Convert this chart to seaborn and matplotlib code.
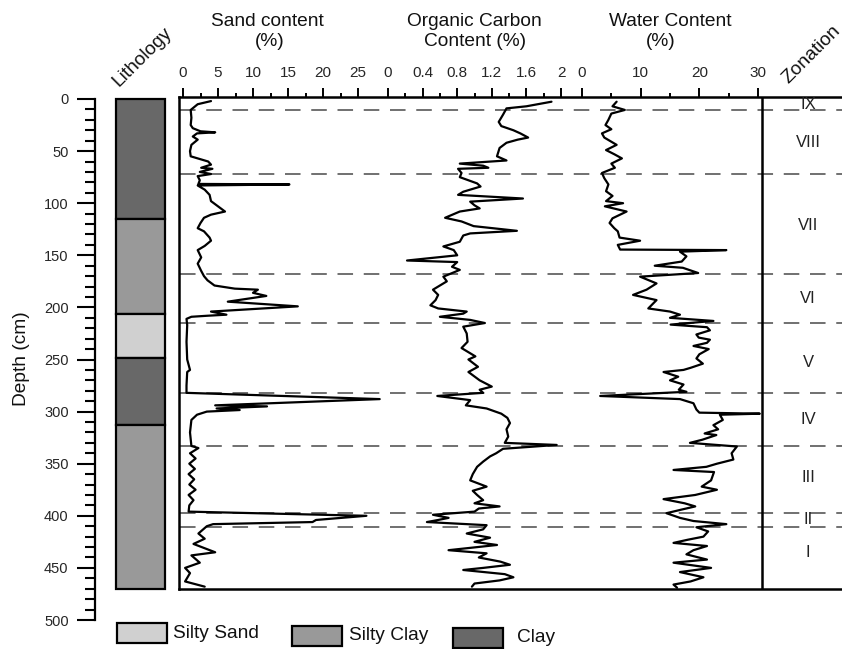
import matplotlib
matplotlib.use("Agg")
import matplotlib.pyplot as plt
import seaborn as sns
import numpy as np
import pandas as pd
from matplotlib.patches import Rectangle

# ---------------- data ----------------
sand_depth = [2, 5, 10.5, 18, 25, 28, 31, 32, 33, 36,
              39, 44, 50, 55, 57, 60, 63, 66, 67, 70,
              72, 74, 78, 81.5, 82, 83, 87, 92, 98, 103,
              108, 111, 114, 119, 124, 127, 133, 136, 141, 145,
              152, 158, 165, 170, 174, 179, 182, 183, 186, 189,
              194.5, 199, 204, 207, 208, 209, 211, 217, 233, 250,
              260, 262, 275, 282, 288, 294, 295, 297, 298.5, 300,
              303, 308, 320, 333, 335, 340, 345, 350, 355, 360,
              365, 370, 375, 380, 385, 390, 396, 400, 404, 406,
              408, 410, 417, 422, 427, 435, 438, 445, 450, 455,
              463, 468]
sand_pct = [4.0, 2.1, 1.1, 1.2, 1.1, 1.4, 2.5, 4.6, 2.0, 1.4,
            2.1, 1.2, 1.0, 1.1, 2.1, 3.6, 4.0, 2.6, 4.2, 2.4,
            4.0, 2.1, 2.4, 2.2, 15.2, 2.1, 3.1, 3.8, 4.0, 5.0,
            6.0, 4.0, 3.0, 2.5, 2.1, 3.0, 3.8, 4.0, 3.1, 2.1,
            2.6, 2.1, 2.6, 3.0, 3.5, 4.5, 7.4, 10.7, 10.0, 11.9,
            6.4, 16.4, 4.0, 6.2, 3.5, 1.2, 0.5, 0.6, 0.5, 0.6,
            1.0, 0.6, 0.5, 0.5, 28.1, 4.6, 12.0, 4.8, 8.1, 3.4,
            2.0, 1.2, 1.0, 1.2, 2.2, 1.0, 1.8, 0.9, 1.7, 0.8,
            1.6, 0.9, 1.8, 0.8, 1.5, 0.9, 0.8, 26.2, 19.0, 18.5,
            4.3, 3.4, 2.2, 3.1, 1.5, 4.6, 1.2, 2.4, 0.3, 1.0,
            0.3, 3.1]

oc_depth = [2.6, 7, 9, 15, 22, 26, 30, 33, 37, 39,
            42, 47, 55, 59, 62, 64, 66, 67, 71, 75,
            81, 84, 89, 92, 95.5, 98.5, 102, 105, 108, 114,
            117.5, 122, 126.5, 129, 131, 137, 141.5, 145, 150, 155,
            156.5, 161, 164, 170.5, 175, 183, 188, 193, 198, 201,
            204, 206, 209, 212, 215, 218.5, 225, 233, 239, 247,
            250, 257, 262, 270, 276, 279, 282, 285, 289, 294,
            297, 302, 306, 311, 317, 324, 330, 332, 335.7, 340,
            343, 348, 353, 360, 366, 372, 376, 380, 385, 388,
            391, 393, 396, 399, 402, 404, 406, 409, 413, 417,
            421, 425, 428, 433, 436, 440, 444, 447, 450, 452,
            456, 459, 462, 465, 468]
oc_pct = [1.89, 1.60, 1.37, 1.33, 1.28, 1.31, 1.45, 1.53, 1.62, 1.50,
          1.37, 1.29, 1.26, 1.37, 0.83, 1.10, 1.16, 0.81, 0.85, 0.83,
          1.03, 1.07, 0.87, 0.81, 1.56, 0.95, 1.00, 1.06, 0.83, 0.66,
          0.85, 0.99, 1.49, 0.95, 0.87, 0.83, 0.64, 0.76, 0.80, 0.22,
          0.80, 0.74, 0.83, 0.64, 0.68, 0.52, 0.58, 0.55, 0.49, 0.58,
          0.91, 0.87, 0.60, 0.95, 1.12, 0.87, 0.91, 0.92, 0.85, 1.01,
          0.93, 1.04, 0.93, 1.06, 1.20, 1.06, 1.10, 0.57, 0.95, 0.90,
          1.14, 1.31, 1.38, 1.41, 1.37, 1.39, 1.35, 1.95, 1.33, 1.25,
          1.18, 1.10, 1.03, 0.98, 0.95, 1.14, 0.98, 1.03, 1.10, 1.00,
          1.29, 1.05, 1.00, 0.52, 0.70, 0.58, 0.45, 1.14, 1.10, 0.91,
          1.18, 1.00, 1.26, 0.70, 1.14, 1.05, 1.30, 1.41, 1.10, 0.87,
          1.35, 1.45, 1.29, 1.00, 0.97]

water_depth = [2.6, 7, 10.5, 14, 20, 25, 29, 33, 37, 44,
               49, 53, 57, 62, 66, 71, 76, 82, 88.5, 93,
               98, 100, 103, 108, 114.5, 119, 124, 127, 133, 136,
               140, 144.5, 145, 146.5, 151, 156, 160, 162, 167, 170.5,
               177, 183, 188, 193, 201, 204, 207, 210, 213, 216.5,
               219, 222, 226, 229, 231, 234, 237, 240, 245, 249,
               254, 258, 260, 262, 266.5, 270, 274, 279, 281, 285,
               288, 292, 298, 301, 302, 303, 308, 313, 317, 321,
               322.5, 327, 330, 333.5, 340, 346, 350, 353, 356, 358,
               366, 372, 375, 380, 384, 388, 391, 394, 397.5, 402,
               405, 408, 411, 415, 420, 423, 426, 429, 433, 437,
               442, 445, 450, 454, 459, 463, 466, 469]
water_pct = [5.9, 5.2, 7.3, 5.0, 4.5, 4.0, 5.0, 3.4, 3.8, 5.9,
             4.1, 5.5, 6.8, 5.0, 5.6, 3.4, 3.8, 4.5, 4.1, 5.2,
             4.1, 7.0, 3.9, 7.6, 5.2, 4.7, 5.5, 6.1, 6.4, 9.9,
             6.1, 6.5, 24.6, 16.7, 17.8, 17.0, 12.4, 17.2, 19.8, 9.9,
             12.7, 11.0, 8.7, 12.7, 11.3, 15.0, 16.7, 15.0, 22.4, 15.1,
             21.3, 21.8, 19.5, 19.9, 21.8, 21.3, 19.0, 21.6, 20.0, 19.5,
             20.6, 18.5, 17.3, 13.9, 16.4, 15.0, 17.3, 16.5, 17.8, 3.1,
             16.7, 19.0, 19.5, 20.0, 30.3, 23.5, 24.0, 22.4, 23.2, 20.9,
             22.9, 20.5, 18.4, 26.4, 25.5, 25.8, 23.0, 21.2, 15.6, 22.5,
             22.0, 20.4, 23.0, 19.3, 13.9, 17.5, 19.3, 17.0, 14.4, 16.7,
             19.0, 24.6, 19.5, 21.5, 20.7, 18.0, 15.6, 21.3, 19.0, 17.8,
             21.3, 15.6, 22.0, 16.7, 20.7, 18.5, 15.6, 16.2]

lith_top = [0, 115, 206, 249, 313]
lith_bottom = [115, 206, 249, 313, 470]
lith_type = ["Clay", "Silty Clay", "Silty Sand", "Clay", "Silty Clay"]

legend_labels = ["Silty Sand", "Silty Clay", "Clay"]

zone_bounds = [10.5, 72, 168, 215, 282, 333, 397, 411]
zone_names = ["IX", "VIII", "VII", "VI", "V", "IV", "III", "II", "I"]
zone_label_depth = [5.5, 42, 121, 191, 253, 308, 363, 404, 435]

sand_ticks = [0, 5, 10, 15, 20, 25]
sand_tick_labels = ["0", "5", "10", "15", "20", "25"]
oc_ticks = [0, 0.4, 0.8, 1.2, 1.6, 2]
oc_tick_labels = ["0", "0.4", "0.8", "1.2", "1.6", "2"]
water_ticks = [0, 10, 20, 30]
water_tick_labels = ["0", "10", "20", "30"]
depth_ticks = [0, 50, 100, 150, 200, 250, 300, 350, 400, 450, 500]

# ---------------- style ----------------
sns.set_style("white")
plt.rcParams["font.family"] = ["Liberation Sans", "DejaVu Sans"]

lith_colors = {"Clay": "#686868", "Silty Clay": "#999999", "Silty Sand": "#d0d0d0"}

W, H = 842, 649
Y0 = 99.0
PXCM = 1.042


def fx(px):
    return px / W


def fy(d):
    return 1 - (Y0 + PXCM * d) / H


def fpy(py):
    return 1 - py / H


D_TOP, D_BOT = -1.5, 470
fig = plt.figure(figsize=(W / 100, H / 100), dpi=100)

bot = fy(D_BOT)
hgt = fy(D_TOP) - fy(D_BOT)

# ---------- depth axis ----------
axd = fig.add_axes([fx(95), fy(500), 0.0005, fy(0) - fy(500)])
axd.set_facecolor("none")
axd.set_ylim(500, 0)
axd.set_yticks(depth_ticks)
axd.set_yticklabels([str(t) for t in depth_ticks])
axd.set_yticks(np.arange(0, 501, 10), minor=True)
axd.set_xticks([])
for s in ["top", "right", "bottom"]:
    axd.spines[s].set_visible(False)
axd.spines["left"].set_linewidth(1.6)
axd.spines["left"].set_color("black")
axd.tick_params(axis="y", which="major", length=13, width=1.5, labelsize=10.5,
                pad=6, direction="out", left=True, color="black")
axd.tick_params(axis="y", which="minor", length=7, width=1.5, direction="out",
                left=True, color="black")

fig.text(fx(22), fpy(359), "Depth (cm)", rotation=90, ha="center", va="center",
         fontsize=13.8, color="#111111")

# ---------- lithology ----------
axl = fig.add_axes([fx(116), bot, fx(165) - fx(116), hgt])
axl.set_facecolor("none")
axl.set_xlim(0, 1)
axl.set_ylim(D_BOT, D_TOP)
bars = axl.bar([0.5] * len(lith_top),
               [b - t for t, b in zip(lith_top, lith_bottom)],
               bottom=lith_top, width=1.0,
               color=[lith_colors[t] for t in lith_type],
               edgecolor="black", linewidth=1.6)
for b in bars:
    b.set_clip_on(False)
axl.axis("off")

fig.text(fx(119), fpy(87), "Lithology", rotation=45, rotation_mode="anchor",
         ha="left", va="baseline", fontsize=13.8, color="#111111")

# ---------- frame ----------
axf = fig.add_axes([fx(179), bot, 1 - fx(179) + 0.01, hgt])
axf.set_facecolor("none")
axf.set_xlim(179, 842 + 0.01 * W)
axf.set_ylim(D_BOT, D_TOP)
axf.set_xticks([])
axf.set_yticks([])
axf.spines["right"].set_visible(False)
for s in ["left", "top", "bottom"]:
    axf.spines[s].set_linewidth(1.8)
    axf.spines[s].set_color("black")
axf.hlines(zone_bounds, 180, 842, colors="#707070", linestyles=(0, (8, 5.5)),
           linewidth=1.4, zorder=1)
axf.axvline(762, color="black", lw=1.8, zorder=3)
for name, d in zip(zone_names, zone_label_depth):
    axf.text(808, d, name, ha="center", va="center", fontsize=12, color="#222222")

fig.text(fx(788), fpy(84), "Zonation", rotation=45, rotation_mode="anchor",
         ha="left", va="baseline", fontsize=13.8, color="#111111")


# ---------- series ----------
def series_axes(px_left, px_right, px_zero, px_per_unit, depth, values,
                ticks, tick_labels, minor_ticks):
    ax = fig.add_axes([fx(px_left), bot, fx(px_right) - fx(px_left), hgt])
    ax.set_facecolor("none")
    df = pd.DataFrame({"depth": depth, "value": values})
    sns.lineplot(data=df, x="value", y="depth", orient="y", sort=False,
                 estimator=None, color="black", lw=1.6, ax=ax, zorder=4)
    ax.set_xlim((px_left - px_zero) / px_per_unit, (px_right - px_zero) / px_per_unit)
    ax.set_ylim(D_BOT, D_TOP)
    ax.set_xlabel("")
    ax.set_ylabel("")
    ax.set_yticks([])
    for s in ax.spines.values():
        s.set_visible(False)
    ax.xaxis.tick_top()
    ax.set_xticks(ticks)
    ax.set_xticklabels(tick_labels)
    ax.set_xticks(minor_ticks, minor=True)
    ax.tick_params(axis="x", which="major", top=True, bottom=False, length=6.5,
                   width=1.4, labelsize=11, pad=6, direction="out", color="black")
    ax.tick_params(axis="x", which="minor", top=True, bottom=False, length=3,
                   width=1.4, direction="out", color="black")
    return ax


series_axes(179, 388, 183, 7.0, sand_depth, sand_pct,
            sand_ticks, sand_tick_labels, [2.5, 7.5, 12.5, 17.5, 22.5])
series_axes(388, 582, 388, 86.5, oc_depth, oc_pct,
            oc_ticks, oc_tick_labels, [0.2, 0.6, 1.0, 1.4, 1.8])
series_axes(582, 762, 582, 5.867, water_depth, water_pct,
            water_ticks, water_tick_labels, [5, 15, 25])

# ---------- titles ----------
title_kw = dict(ha="center", va="baseline", fontsize=13.8, color="#111111")
fig.text(fx(267), fpy(25.5), "Sand content", **title_kw)
fig.text(fx(270), fpy(45.5), "(%)", **title_kw)
fig.text(fx(474), fpy(25.5), "Organic Carbon", **title_kw)
fig.text(fx(475), fpy(45.5), "Content (%)", **title_kw)
fig.text(fx(670), fpy(25.5), "Water Content", **title_kw)
fig.text(fx(661), fpy(45.5), "(%)", **title_kw)

# ---------- legend ----------
legend_box_x = [117, 292, 453]
legend_text_x = [173, 349, 517]
legend_cy = [633, 636, 638]
for lab, bx, tx, cy in zip(legend_labels, legend_box_x, legend_text_x, legend_cy):
    fig.patches.append(Rectangle((fx(bx), fpy(cy + 10)), fx(50), 20 / H,
                                 transform=fig.transFigure,
                                 facecolor=lith_colors[lab], edgecolor="black",
                                 linewidth=1.6))
    fig.text(fx(tx), fpy(cy), lab, ha="left", va="center", fontsize=13.8,
             color="#111111")

fig.savefig("out.png", dpi=100)
